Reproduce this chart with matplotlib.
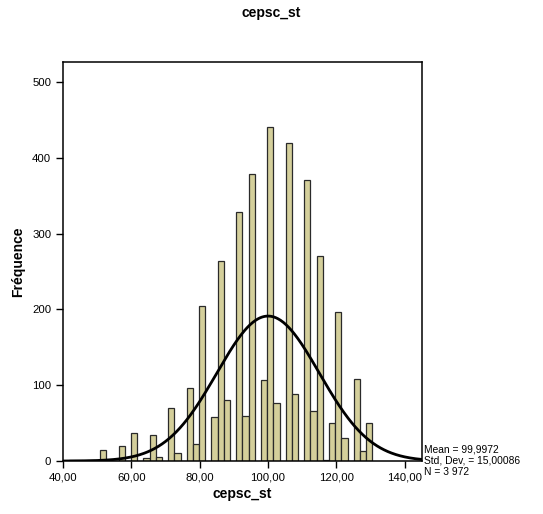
import numpy as np
import matplotlib
matplotlib.use("Agg")
import matplotlib.pyplot as plt

plt.rcParams['font.family'] = ['Liberation Sans', 'DejaVu Sans']

# Histogram data
bin_start = 40.0
bin_width = 1.81
counts = [0, 1, 1, 1, 1, 0, 14, 0, 0, 20,
          0, 37, 0, 4, 34, 6, 0, 70, 10, 0,
          96, 22, 204, 0, 58, 264, 81, 0, 328, 60,
          379, 0, 107, 441, 77, 0, 420, 88, 0, 370,
          66, 271, 2, 50, 197, 31, 0, 108, 13, 50]

mean = 99.9972
std_dev = 15.00086
n_obs = 3972

x_ticks = [40, 60, 80, 100, 120, 140]
y_ticks = [0, 100, 200, 300, 400, 500]

bar_color = "#d4cf9b"

fig = plt.figure(figsize=(5.43, 5.14), dpi=100)
ax = fig.add_axes([0.116, 0.103, 0.661, 0.776])

lefts = bin_start + bin_width * np.arange(len(counts))
ax.bar(lefts, counts, width=bin_width, align="edge", color=bar_color,
       edgecolor="#2a2a2a", linewidth=0.9, zorder=2)

# Normal curve scaled to counts
xs = np.linspace(40, 145, 400)
ys = n_obs * bin_width / (std_dev * np.sqrt(2 * np.pi)) * np.exp(-0.5 * ((xs - mean) / std_dev) ** 2)
ax.plot(xs, ys, color="black", linewidth=2.0, zorder=3)

ax.set_xlim(40, 145)
ax.set_ylim(0, 526)
ax.set_xticks(x_ticks)
ax.set_xticklabels([f"{v:.2f}".replace(".", ",") for v in x_ticks])
ax.set_yticks(y_ticks)
ax.tick_params(direction="out", length=5, width=1, labelsize=8.2, colors="black")
ax.tick_params(top=False, right=False)
for s in ax.spines.values():
    s.set_linewidth(1.1)
    s.set_color("black")

ax.set_xlabel("cepsc_st", fontsize=10, fontweight="bold", labelpad=3)
ax.set_ylabel("Fréquence", fontsize=10, fontweight="bold", labelpad=5)
fig.text(0.5, 0.988, "cepsc_st", ha="center", va="top", fontsize=10, fontweight="bold")

stats = [f"Mean = {mean:.4f}".replace(".", ","),
         f"Std. Dev. = {std_dev:.5f}".replace(".", ","),
         f"N = {n_obs:,}".replace(",", " ")]
for i, line in enumerate(stats):
    fig.text(0.781, 0.126 - i * 0.0225, line, ha="left", va="center", fontsize=7.4)

fig.savefig("out.png", dpi=100)
